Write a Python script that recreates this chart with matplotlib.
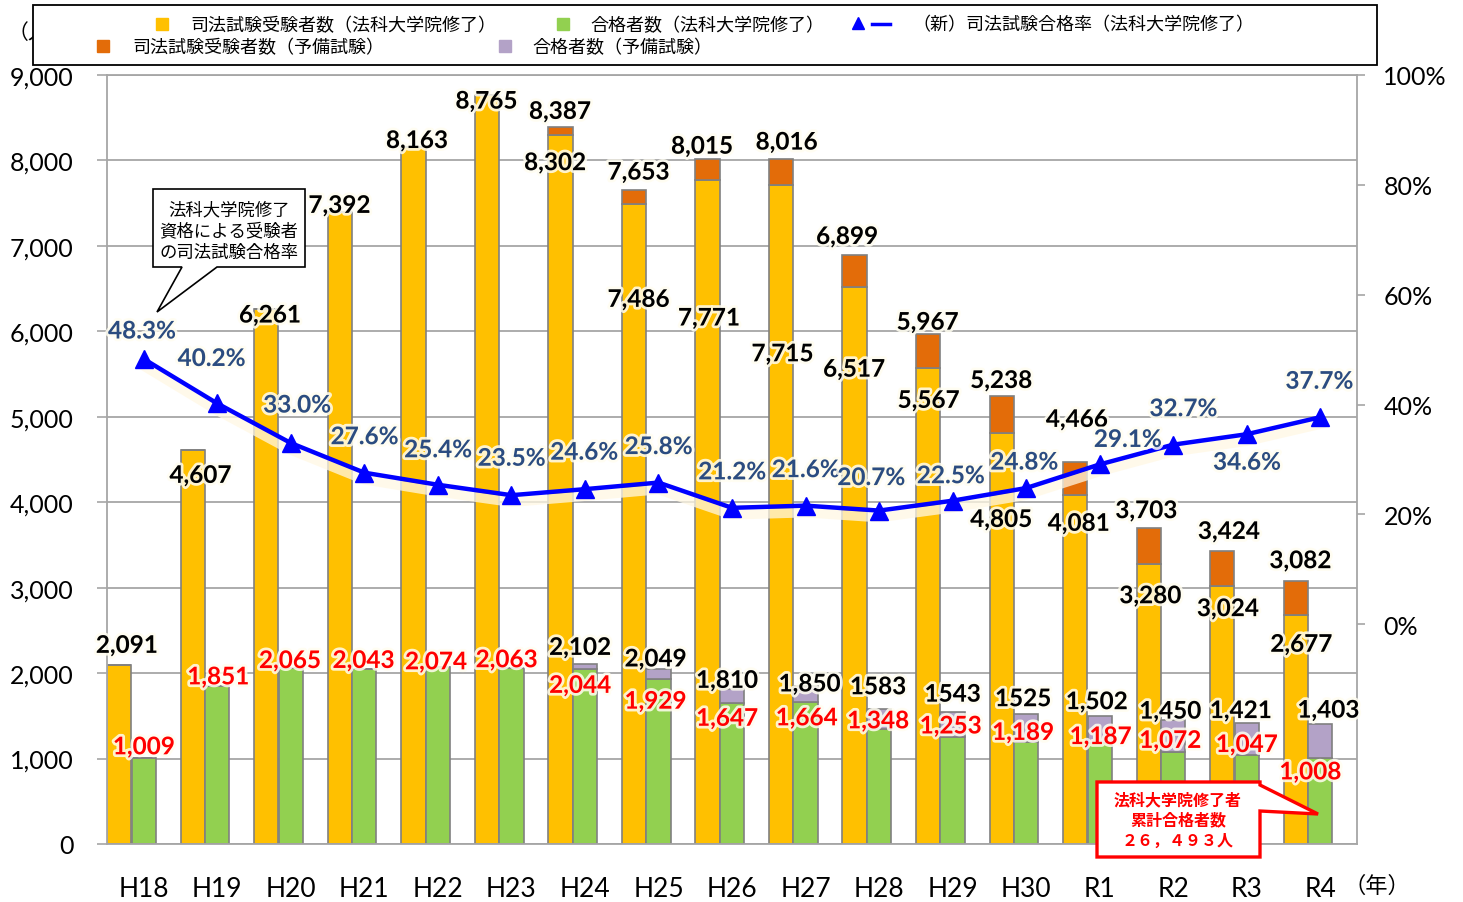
import numpy as np
import matplotlib
matplotlib.use("Agg")
import matplotlib.pyplot as plt
import matplotlib.patheffects as pe
from matplotlib.patches import Polygon, Rectangle
from matplotlib.lines import Line2D
from matplotlib.ticker import FuncFormatter, MultipleLocator

plt.rcParams['font.family'] = ['Lato', 'Noto Sans CJK JP', 'DejaVu Sans']

# data
years = ['H18', 'H19', 'H20', 'H21', 'H22', 'H23', 'H24', 'H25', 'H26',
         'H27', 'H28', 'H29', 'H30', 'R1', 'R2', 'R3', 'R4']
exam_total = [2091, 4607, 6261, 7392, 8163, 8765, 8387, 7653, 8015,
              8016, 6899, 5967, 5238, 4466, 3703, 3424, 3082]
exam_ls = [2091, 4607, 6261, 7392, 8163, 8765, 8302, 7486, 7771,
           7715, 6517, 5567, 4805, 4081, 3280, 3024, 2677]
pass_total = [1009, 1851, 2065, 2043, 2074, 2063, 2102, 2049, 1810,
              1850, 1583, 1543, 1525, 1502, 1450, 1421, 1403]
pass_ls = [1009, 1851, 2065, 2043, 2074, 2063, 2044, 1929, 1647,
           1664, 1348, 1253, 1189, 1187, 1072, 1047, 1008]
pass_rate = [48.3, 40.2, 33.0, 27.6, 25.4, 23.5, 24.6, 25.8, 21.2,
             21.6, 20.7, 22.5, 24.8, 29.1, 32.7, 34.6, 37.7]
pass_total_text = ['1,009', '1,851', '2,065', '2,043', '2,074', '2,063', '2,102',
                   '2,049', '1,810', '1,850', '1583', '1543', '1525', '1,502',
                   '1,450', '1,421', '1,403']

# label offsets in pixels (dx, dy)
top_off = [(-17, 20), (-17, -25), (-21, -6), (-25, 7), (-21, 6), (-25, -6), (-25, 16),
           (-20, 18), (-30, 13), (-19, 17), (-32, 18), (-25, 12), (-25, 16), (-23, 43),
           (-27, 17), (-18, 20), (-20, 20)]
ls_off = [(-30, -28), (-20, -95), (-23, -138), (-23, -169), (-25, -82), (-24, -32),
          (-25, -86), (-21, -28), (-23, -32), (-19, -23), (-19, -29)]
pt_off = [(-5, 17), (-3, 10), (-5, 9), (4, 2), (-1, 22), (0, 18), (-3, 15), (-3, 14),
          (-3, 9), (-6, 12), (8, 14)]
pl_off = [(0, 11), (1, 9), (-1, 7), (-1, 9), (-2, 5), (-5, 8), (-5, -16), (-3, -22),
          (-5, -15), (1, -16), (-1, 8), (-2, 11), (-3, 10), (1, 6), (-3, 12), (0, 10),
          (-10, -14)]
rate_off = [(-2, 28), (-6, 45), (6, 38), (0, 36), (0, 35), (0, 37), (-1, 37), (0, 36),
            (0, 36), (0, 36), (-8, 33), (-2, 25), (-2, 26), (28, 25), (10, 36), (0, -28),
            (-1, 36)]

YELLOW = '#FFC000'
ORANGE = '#E36C09'
GREEN = '#92D050'
PURPLE = '#B3A2C7'
EDGE = '#808080'
GRID = '#A6A6A6'
RATEBLUE = '#2B4C80'

W, H = 1463, 903


def px(x, y):
    return (x / W, 1 - y / H)


fig = plt.figure(figsize=(W / 100, H / 100), dpi=100)
ax = fig.add_axes([107 / W, 1 - 845 / H, 1250 / W, 769 / H])
ax2 = ax.twinx()

x = np.arange(len(years))
exam_ls_a = np.array(exam_ls)
exam_yobi = np.array(exam_total) - exam_ls_a
pass_ls_a = np.array(pass_ls)
pass_yobi = np.array(pass_total) - pass_ls_a

bw = 0.33
ax.bar(x - 0.333, exam_ls_a, bw, color=YELLOW, edgecolor=EDGE, lw=1.2, zorder=2)
ax.bar(x - 0.333, exam_yobi, bw, bottom=exam_ls_a, color=ORANGE, edgecolor=EDGE, lw=1.2, zorder=2)
ax.bar(x, pass_ls_a, bw, color=GREEN, edgecolor=EDGE, lw=1.2, zorder=2)
ax.bar(x, pass_yobi, bw, bottom=pass_ls_a, color=PURPLE, edgecolor=EDGE, lw=1.2, zorder=2)

ax.set_xlim(-0.5, len(years) - 0.5)
ax.set_ylim(0, 9000)
ax.yaxis.set_major_locator(MultipleLocator(1000))
ax.yaxis.set_major_formatter(FuncFormatter(lambda v, p: f'{int(v):,}'))
ax.grid(axis='y', color=GRID, lw=1.3)
ax.set_axisbelow(True)
ax.set_xticks(x)
ax.set_xticklabels(years)
ax.tick_params(axis='x', length=0, pad=23, labelsize=19)
ax.tick_params(axis='y', direction='out', length=7, width=1.2, color=GRID, pad=17, labelsize=18)
for s in ['left', 'bottom', 'top']:
    ax.spines[s].set_color(GRID)
    ax.spines[s].set_linewidth(1.3)
ax.spines['right'].set_visible(False)

# rate line (soft glow under the line only)
rate = np.array(pass_rate) / 100
ax2.plot(x, rate, color='#0000FF', lw=3.2, zorder=5,
         path_effects=[pe.SimpleLineShadow(offset=(0, -5), shadow_color='#FFF8E4',
                                           alpha=0.75, linewidth=7),
                       pe.Normal()])
ax2.plot(x, rate, ls='none', color='#0000FF', marker='^', ms=13, zorder=6)
ax2.set_ylim(-0.4, 1.0)
ax2.set_yticks(np.arange(0, 1.01, 0.2))
ax2.yaxis.set_major_formatter(FuncFormatter(lambda v, p: f'{v * 100:.0f}%'))
ax2.tick_params(axis='y', direction='out', length=6, width=1.2, color=GRID, pad=13, labelsize=18)
for s in ['left', 'bottom', 'top']:
    ax2.spines[s].set_visible(False)
ax2.spines['right'].set_color(GRID)
ax2.spines['right'].set_linewidth(1.3)

glow = [pe.withStroke(linewidth=4, foreground='#FFFDF0', alpha=0.85)]


def lab(xv, yv, text, off, color, trans):
    ax2.annotate(text, (xv, yv), xycoords=trans, xytext=off, textcoords='offset pixels',
                 ha='center', va='center', fontsize=17.5, fontweight='bold', color=color,
                 path_effects=glow, zorder=10)


for i in range(len(years)):
    lab(x[i], exam_total[i], f'{exam_total[i]:,}', top_off[i], 'black', ax.transData)
    lab(x[i], pass_ls[i], f'{pass_ls[i]:,}', pl_off[i], '#FF0000', ax.transData)
    lab(x[i], rate[i], f'{pass_rate[i]:.1f}%', rate_off[i], RATEBLUE, ax2.transData)
for j, i in enumerate(range(6, len(years))):
    lab(x[i], exam_ls[i], f'{exam_ls[i]:,}', ls_off[j], 'black', ax.transData)
    lab(x[i], pass_total[i], pass_total_text[i], pt_off[j], 'black', ax.transData)

# unit labels
fig.text(*px(8, 33), '（人）', fontsize=15, ha='left', va='center')
fig.text(*px(1377, 886), '（年）', fontsize=16, ha='center', va='center')

# legend box
lb = Rectangle(px(33, 66), 1344 / W, 60 / H, transform=fig.transFigure,
               facecolor='white', edgecolor='black', lw=1.3, zorder=20)
fig.add_artist(lb)
leg_items = [
    (162, 25, YELLOW, 190, '司法試験受験者数（法科大学院修了）'),
    (563, 25, GREEN, 590, '合格者数（法科大学院修了）'),
    (103, 47, ORANGE, 132, '司法試験受験者数（予備試験）'),
    (505, 47, PURPLE, 532, '合格者数（予備試験）'),
]
for mx, my, col, tx, txt in leg_items:
    fig.add_artist(Line2D([mx / W], [1 - my / H], marker='s', ms=9, color=col, mec=col,
                          transform=fig.transFigure, zorder=21))
    fig.text(*px(tx, my), txt, fontsize=13, ha='left', va='center', zorder=21)
fig.add_artist(Line2D([858 / W], [1 - 24 / H], marker='^', ms=9, color='#0000FF',
                      transform=fig.transFigure, zorder=21))
fig.add_artist(Line2D([872 / W, 890 / W], [1 - 25 / H, 1 - 25 / H], lw=2.5, color='#0000FF',
                      transform=fig.transFigure, zorder=21))
fig.text(*px(912, 25), '（新）司法試験合格率（法科大学院修了）', fontsize=13,
         ha='left', va='center', zorder=21)

# callout: rate explanation
c1 = [(153, 190), (305, 190), (305, 268), (217, 268), (157, 313), (182, 268), (153, 268)]
fig.add_artist(Polygon([px(a, b) for a, b in c1], closed=True, transform=fig.transFigure,
                       facecolor='white', edgecolor='black', lw=1.2, zorder=15))
for yy, t in zip([210, 231, 253], ['法科大学院修了', '資格による受験者', 'の司法試験合格率']):
    fig.text(*px(229, yy), t, fontsize=12.5, ha='center', va='center', zorder=16)

# callout: cumulative passers
c2 = [(1097, 783), (1260, 783), (1260, 786), (1318, 815), (1260, 812), (1260, 858), (1097, 858)]
fig.add_artist(Polygon([px(a, b) for a, b in c2], closed=True, transform=fig.transFigure,
                       facecolor='white', edgecolor='#FF0000', lw=2.4, zorder=15))
for yy, t in zip([801, 820, 841], ['法科大学院修了者', '累計合格者数', '２６，４９３人']):
    fig.text(*px(1178, yy), t, fontsize=11.5, fontweight='bold', color='#FF0000',
             ha='center', va='center', zorder=16)

fig.savefig('out.png', dpi=100)
